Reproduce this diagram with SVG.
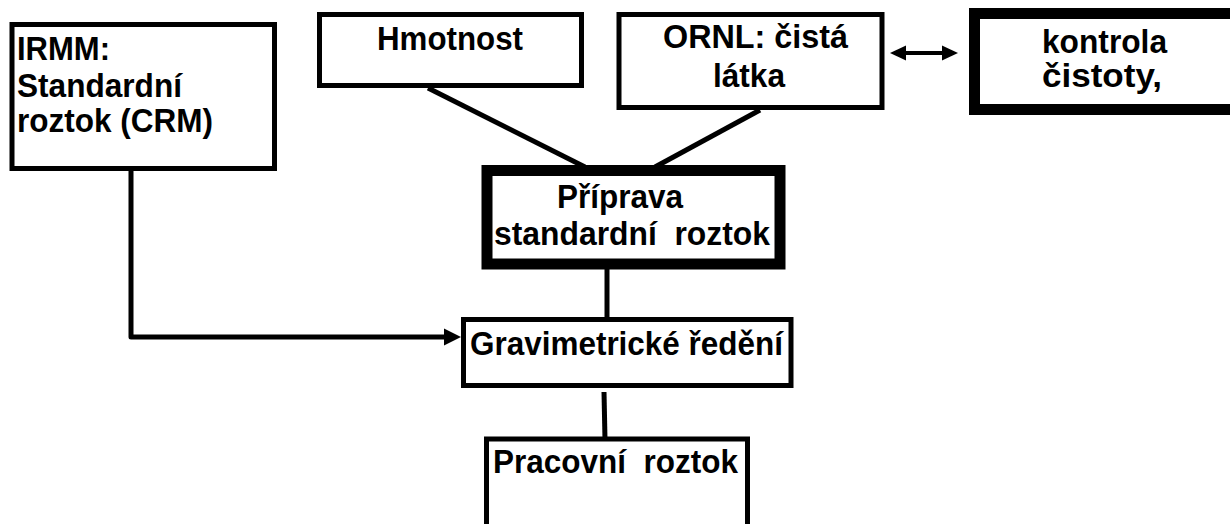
<svg xmlns="http://www.w3.org/2000/svg" width="1230" height="524" viewBox="0 0 1230 524">
<defs>
<style>
.box{fill:#fff;stroke:#000;stroke-width:5}
.thick{fill:#fff;stroke:#000;stroke-width:11}
.t{font-family:"Liberation Sans",Arial,sans-serif;font-weight:bold;font-size:34px;fill:#000}
.c{text-anchor:middle}
.ln{fill:none;stroke:#000;stroke-width:5}
</style>
</defs>
<rect width="1230" height="524" fill="#fff"/>
<g id="connectors">
<line class="ln" x1="428" y1="88" x2="585" y2="167"/>
<line class="ln" x1="760" y1="110" x2="655" y2="167"/>
<line class="ln" x1="607" y1="268" x2="607" y2="318"/>
<line class="ln" x1="604" y1="392" x2="605" y2="440"/>
<path class="ln" d="M131,170 V337 H446" stroke-linejoin="round"/>
<path d="M444,328.5 L461,337 L444,345.5 z" fill="#000"/>
<line x1="898" y1="53" x2="950" y2="53" stroke="#000" stroke-width="4"/>
<path d="M890,53 L906,45.5 L906,60.5 z" fill="#000"/>
<path d="M958,53 L942,45.5 L942,60.5 z" fill="#000"/>
</g>
<g id="irmm">
<rect class="box" x="12" y="24.5" width="262.5" height="144"/>
<text class="t" x="17" y="60" textLength="93" lengthAdjust="spacingAndGlyphs">IRMM:</text>
<text class="t" x="17" y="97" textLength="165" lengthAdjust="spacingAndGlyphs">Standardní</text>
<text class="t" x="17" y="132" textLength="196" lengthAdjust="spacingAndGlyphs">roztok (CRM)</text>
</g>
<g id="hmotnost">
<rect class="box" x="319.5" y="14.5" width="262" height="71"/>
<text class="t c" x="450" y="50" textLength="146" lengthAdjust="spacingAndGlyphs">Hmotnost</text>
</g>
<g id="ornl">
<rect class="box" x="619" y="14.5" width="263" height="93"/>
<text class="t c" x="755.5" y="48" textLength="185" lengthAdjust="spacingAndGlyphs">ORNL: čistá</text>
<text class="t c" x="749" y="87" textLength="72" lengthAdjust="spacingAndGlyphs">látka</text>
</g>
<g id="kontrola">
<rect class="thick" x="974.5" y="13.5" width="270" height="96"/>
<text class="t c" x="1104.5" y="53" textLength="125" lengthAdjust="spacingAndGlyphs">kontrola</text>
<text class="t" x="1042" y="87" textLength="120" lengthAdjust="spacingAndGlyphs">čistoty,</text>
</g>
<g id="priprava">
<rect class="thick" x="487" y="170.5" width="293" height="93.5"/>
<text class="t c" x="620" y="208" textLength="126" lengthAdjust="spacingAndGlyphs">Příprava</text>
<text class="t c" x="632" y="245" textLength="276" lengthAdjust="spacingAndGlyphs">standardní&#160; roztok</text>
</g>
<g id="gravimetricke">
<rect class="box" x="463.5" y="319.5" width="327.5" height="66"/>
<text class="t c" x="626.5" y="355" textLength="313" lengthAdjust="spacingAndGlyphs">Gravimetrické ředění</text>
</g>
<g id="pracovni">
<rect class="box" x="486.5" y="439" width="261" height="100"/>
<text class="t c" x="615.5" y="473" textLength="245" lengthAdjust="spacingAndGlyphs">Pracovní&#160; roztok</text>
</g>
</svg>
